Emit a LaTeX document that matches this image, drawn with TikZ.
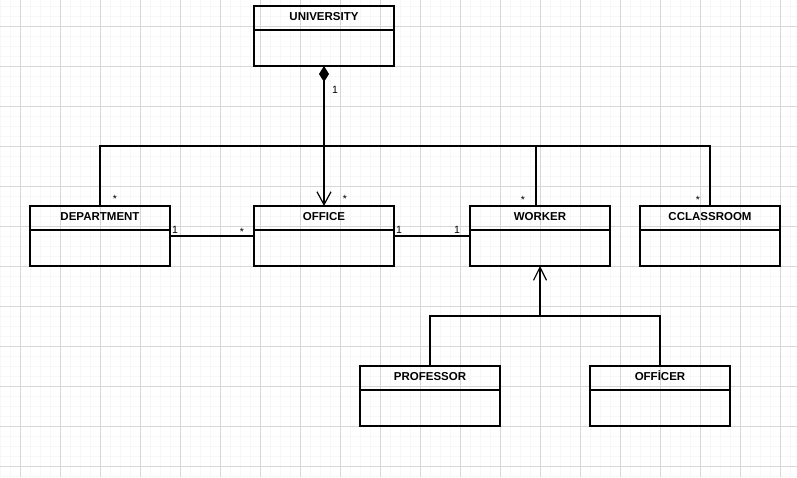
\documentclass[tikz,border=0pt]{standalone}
\usepackage{fontspec}
\setmainfont{Liberation Sans}
\usetikzlibrary{positioning,arrows.meta}
\definecolor{gridmajor}{HTML}{D8D8D8}
\definecolor{gridminor}{HTML}{F7F7F7}
\begin{document}
\begin{tikzpicture}[x=1pt,y=-1pt,
  classhead/.style={draw,line width=1.2pt,minimum width=140pt,minimum height=24pt,
    inner sep=0pt,outer sep=0pt,text height=8pt,text depth=3pt,
    font=\bfseries\fontsize{11.5}{12}\selectfont},
  classbody/.style={draw,line width=1.2pt,minimum width=140pt,minimum height=36pt,
    inner sep=0pt,outer sep=0pt},
  link/.style={line width=1.2pt},
  mult/.style={font=\fontsize{10.5}{11}\selectfont,inner sep=0pt,anchor=base}]
         % paper and grid
         \useasboundingbox (0,0) rectangle (797,477) ;
         \fill[white] (0,0) rectangle (797,477) ;
         \foreach \x in {0,10,...,790} \draw[gridminor,line width=0.5pt] (\x,0) -- (\x,477) ;
         \foreach \y in {6,16,...,476} \draw[gridminor,line width=0.5pt] (0,\y) -- (797,\y) ;
         \foreach \x in {20,60,...,780} \draw[gridmajor,line width=0.7pt] (\x,0) -- (\x,477) ;
         \foreach \y in {26,66,...,466} \draw[gridmajor,line width=0.7pt] (0,\y) -- (797,\y) ;
         % classes
         \node[classhead] (university) at (324,18) {UNIVERSITY} ;
         \node[classbody,below=0pt of university] (university-body) {} ;
         \node[classhead] (department) at (100,218) {DEPARTMENT} ;
         \node[classbody,below=0pt of department] (department-body) {} ;
         \node[classhead] (office) at (324,218) {OFFICE} ;
         \node[classbody,below=0pt of office] (office-body) {} ;
         \node[classhead] (worker) at (540,218) {WORKER} ;
         \node[classbody,below=0pt of worker] (worker-body) {} ;
         \node[classhead] (classroom) at (710,218) {CCLASSROOM} ;
         \node[classbody,below=0pt of classroom] (classroom-body) {} ;
         \node[classhead] (professor) at (430,378) {PROFESSOR} ;
         \node[classbody,below=0pt of professor] (professor-body) {} ;
         \node[classhead] (officer) at (660,378) {OFFİCER} ;
         \node[classbody,below=0pt of officer] (officer-body) {} ;
         % composition
         \draw[link,{Diamond[length=16pt,width=10pt]}-{Straight Barb[length=13pt,width=14pt]}]
           (university-body.south) -- (office.north) ;
         \draw[link] (department.north) -- ++(0,-60) -| (classroom.north) ;
         \draw[link] ([xshift=-4pt]worker.north) -- ++(0,-60) ;
         \node[mult] (m-univ) at (335,93) {1} ;
         \node[mult] (m-dept) at (115,202) {*} ;
         \node[mult] (m-office) at (345,202) {*} ;
         \node[mult] (m-worker) at (523,203) {*} ;
         \node[mult] (m-room) at (698,203) {*} ;
         % associations
         \draw[link] ([yshift=-6pt]department-body.north east) -- ([yshift=-6pt]office-body.north west) ;
         \node[mult] (m-dept-office) at (175,233) {1} ;
         \node[mult] (m-office-dept) at (242,235) {*} ;
         \draw[link] ([yshift=-6pt]office-body.north east) -- ([yshift=-6pt]worker-body.north west) ;
         \node[mult] (m-office-worker) at (399,233) {1} ;
         \node[mult] (m-worker-office) at (457,233) {1} ;
         % generalization
         \coordinate (split) at ([yshift=-50pt]worker-body.south) ;
         \draw[link,-{Straight Barb[length=13pt,width=13pt]}] (split) -- (worker-body.south) ;
         \draw[link] (professor.north) |- (split) -| (officer.north) ;
\end{tikzpicture}
\end{document}
